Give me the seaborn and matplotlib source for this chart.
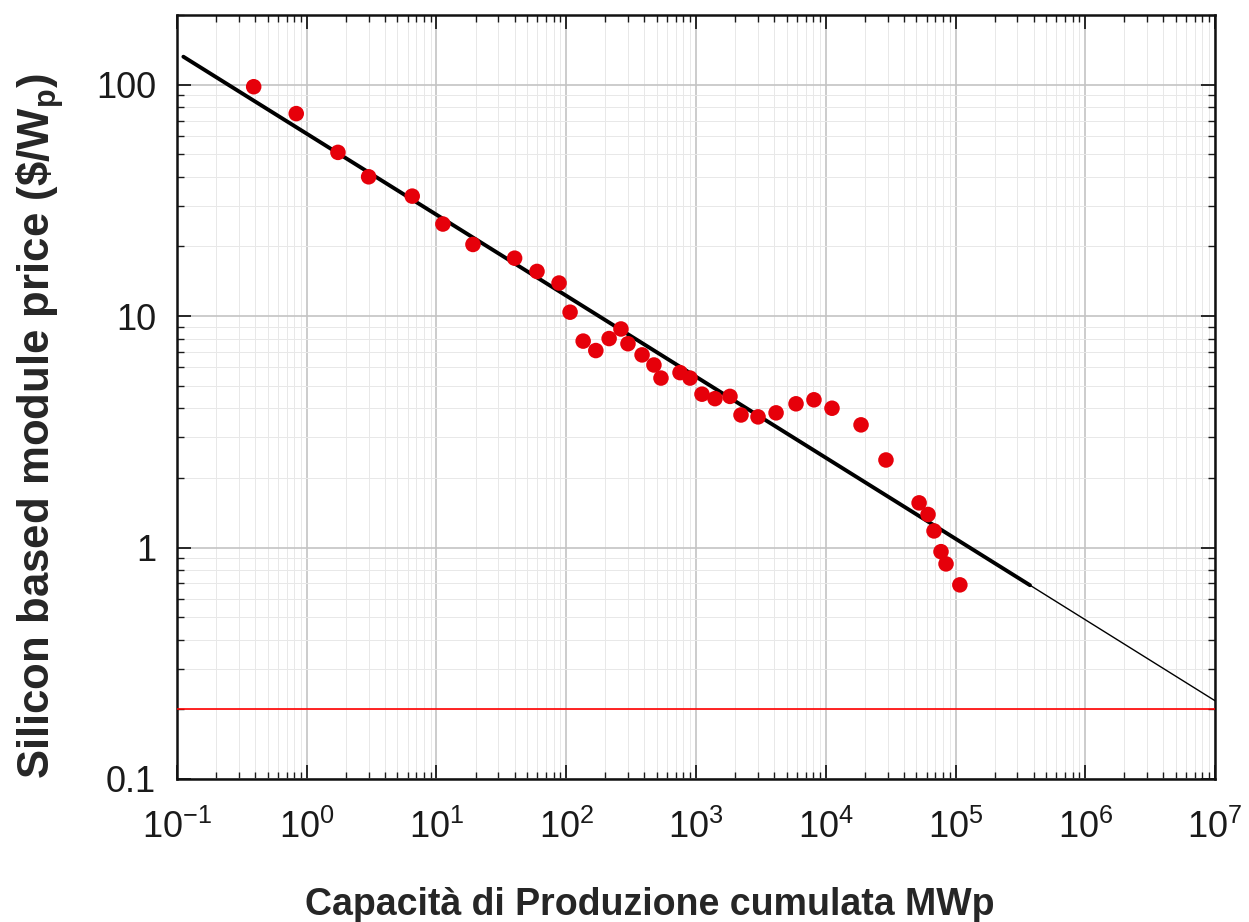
import numpy as np
import pandas as pd
import matplotlib
matplotlib.use("Agg")
import matplotlib.pyplot as plt
from matplotlib.ticker import LogLocator, NullFormatter, LogFormatterSciNotation
import seaborn as sns

# Cumulative installed production capacity (MWp) and module price ($/Wp)
capacity_mwp = [0.39, 0.83, 1.74, 3.0, 6.5, 11.2, 19.1, 40, 59.5, 88, 107,
                135, 169, 214, 264, 299, 384, 474, 537, 753, 899,
                1112, 1400, 1827, 2222, 3006, 4140, 5900, 8110, 11170,
                18700, 29100, 52400, 61400, 68300, 77300, 84500, 108000]
price_usd_wp = [98, 75, 51, 40, 33, 25, 20.4, 17.8, 15.6, 13.9, 10.4,
                7.8, 7.1, 8.0, 8.8, 7.6, 6.8, 6.15, 5.4, 5.7, 5.4,
                4.6, 4.4, 4.5, 3.74, 3.67, 3.82, 4.18, 4.35, 4.0,
                3.39, 2.39, 1.56, 1.39, 1.18, 0.96, 0.85, 0.69]

# Power-law learning curve: price = price_at_1mwp * capacity ** fit_exponent
fit_exponent = -0.35
price_at_1mwp = 61.4
fit_start, fit_data_end, fit_extrap_end = 0.112, 3.75e5, 1e7

# Target price level
target_price = 0.2

plt.rcParams["figure.dpi"] = 100
sns.set_theme(style="ticks")
plt.rcParams["font.family"] = ["Liberation Sans", "DejaVu Sans"]
plt.rcParams["mathtext.fontset"] = "custom"
plt.rcParams["mathtext.rm"] = "Liberation Sans"
plt.rcParams["mathtext.bf"] = "Liberation Sans:bold"
plt.rcParams["mathtext.default"] = "regular"
plt.rcParams["axes.unicode_minus"] = False

fig = plt.figure(figsize=(12.49, 9.22))
ax = fig.add_axes([0.1417, 0.1551, 0.8311, 0.8286])
ax.set_xscale("log")
ax.set_yscale("log")

data = pd.DataFrame({"capacity": capacity_mwp, "price": price_usd_wp})

def fit_curve(lo, hi):
    xs = np.logspace(np.log10(lo), np.log10(hi), 50)
    return pd.DataFrame({"capacity": xs, "price": price_at_1mwp * xs ** fit_exponent})

sns.lineplot(data=fit_curve(fit_data_end, fit_extrap_end), x="capacity", y="price",
             color="black", linewidth=1.0, ax=ax, zorder=3)
sns.lineplot(data=fit_curve(fit_start, fit_data_end), x="capacity", y="price",
             color="black", linewidth=2.8, ax=ax, zorder=4)
sns.scatterplot(data=data, x="capacity", y="price", color="#e6000a",
                s=125, edgecolor="none", linewidth=0, ax=ax, zorder=5)
ax.axhline(target_price, color="red", linewidth=1.2, zorder=3)

ax.set_xlim(0.1, 1e7)
ax.set_ylim(0.1, 200)

ax.xaxis.set_major_locator(LogLocator(base=10, numticks=20))
ax.xaxis.set_minor_locator(LogLocator(base=10, subs=np.arange(2, 10), numticks=100))
ax.xaxis.set_major_formatter(LogFormatterSciNotation())
ax.xaxis.set_minor_formatter(NullFormatter())
ax.yaxis.set_minor_locator(LogLocator(base=10, subs=np.arange(2, 10), numticks=100))
ax.yaxis.set_minor_formatter(NullFormatter())
ax.set_yticks([0.1, 1, 10, 100])
ax.set_yticklabels(["0.1", "1", "10", "100"])

ax.grid(which="major", color="#c4c4c4", linewidth=1.2)
ax.grid(which="minor", color="#e8e8e8", linewidth=0.7)
ax.set_axisbelow(True)

ax.tick_params(which="major", direction="in", length=10, width=1.3,
               top=True, right=True, colors="#1a1a1a", labelsize=26)
ax.tick_params(which="minor", direction="in", length=5, width=1.0,
               top=True, right=True, color="#1a1a1a")
ax.tick_params(axis="x", which="major", pad=22)
ax.tick_params(axis="y", which="major", pad=15)
for s in ax.spines.values():
    s.set_linewidth(1.8)
    s.set_color("#111111")

ax.set_xlabel("Capacità di Produzione cumulata MWp", fontsize=27,
              fontweight="bold")
ax.set_ylabel(r"Silicon based module price (\$/W$_{\mathbf{p}}$)", fontsize=31.5,
              fontweight="bold")
ax.xaxis.set_label_coords(0.455, -0.142)
ax.yaxis.set_label_coords(-0.107, 0.462)

fig.savefig("out.png", dpi=100)
